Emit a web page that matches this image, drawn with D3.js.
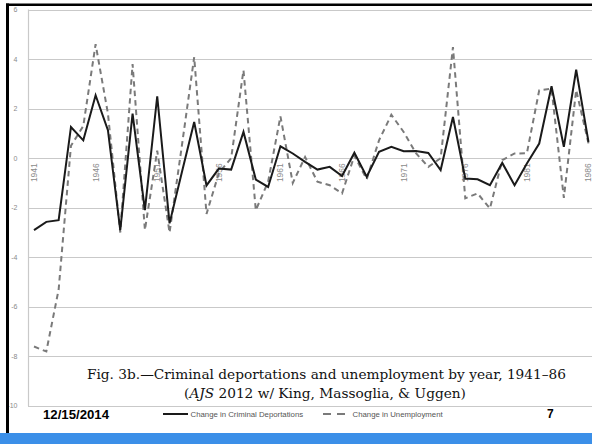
<!DOCTYPE html>
<html><head><meta charset="utf-8">
<script src="https://cdn.jsdelivr.net/npm/d3@7"></script>
<style>html,body{margin:0;padding:0;background:#fff;}svg{display:block;}</style>
</head><body>
<svg id="c" width="592" height="444"></svg>
<script>
const years = d3.range(1941, 1987);
const deportations = [-2.9, -2.57, -2.5, 1.26, 0.72, 2.54, 1.13, -2.9, 1.8, -2.1,
  2.5, -2.63, -0.57, 1.46, -1.1, -0.42, -0.46, 1.06, -0.86, -1.16,
  0.48, 0.19, -0.15, -0.46, -0.35, -0.72, 0.22, -0.75, 0.26, 0.46,
  0.28, 0.29, 0.21, -0.48, 1.66, -0.82, -0.85, -1.09, -0.19, -1.09,
  -0.21, 0.59, 2.9, 0.46, 3.57, 0.66];
const unemployment = [-7.6, -7.8, -5.3, 0.5, 1.3, 4.6, 1.8, -3.0, 3.8, -2.9,
  0.3, -3.0, 0.5, 4.08, -2.25, -0.6, 0.0, 3.55, -2.1, -0.95,
  1.69, -1.0, 0.05, -0.95, -1.09, -1.42, 0.1, -0.85, 0.72, 1.75,
  1.06, 0.2, -0.35, 0.0, 4.48, -1.62, -1.42, -2.03, -0.08, 0.19,
  0.2, 2.74, 2.8, -1.6, 2.75, 0.59];
const yTicks = [6, 4, 2, 0, -2, -4, -6, -8, -10];
const xTickYears = [1941, 1946, 1951, 1956, 1961, 1966, 1971, 1976, 1981, 1986];
const seriesNames = ["Change in Criminal Deportations", "Change in Unemployment"];
const captionLine1 = "Fig. 3b.\u2014Criminal deportations and unemployment by year, 1941\u201386";
const dateText = "12/15/2014";
const pageNum = "7";

const svg = d3.select("#c");
const x = d3.scaleLinear().domain([1941, 1986]).range([34, 588.5]);
const y = d3.scaleLinear().domain([-10, 6]).range([406, 9.5]);
const plotLeft = 28, plotRight = 600;

// gridlines
svg.append("g").selectAll("line").data(yTicks).join("line")
  .attr("x1", plotLeft).attr("x2", plotRight)
  .attr("y1", d => Math.round(y(d)) + 0.5).attr("y2", d => Math.round(y(d)) + 0.5)
  .attr("stroke", "#c9c9c9").attr("stroke-width", 1.2);
svg.append("line").attr("x1", plotLeft + 0.5).attr("x2", plotLeft + 0.5)
  .attr("y1", y(6)).attr("y2", y(-10)).attr("stroke", "#c9c9c9").attr("stroke-width", 1.2);

// y tick labels
svg.append("g").selectAll("text").data(yTicks).join("text")
  .attr("x", 17.5).attr("y", d => y(d)).attr("dy", "0.35em")
  .attr("text-anchor", "end").attr("font-family", "Liberation Sans, Arial, sans-serif")
  .attr("font-size", 7).attr("fill", "#8a8a8a").text(d => d);

// x tick labels
svg.append("g").selectAll("text").data(xTickYears).join("text")
  .attr("transform", d => `translate(${x(d)},${y(0) + 5}) rotate(-90)`)
  .attr("text-anchor", "end").attr("dy", "0.35em")
  .attr("font-family", "Liberation Sans, Arial, sans-serif")
  .attr("font-size", 8.5).attr("fill", "#8a8a8a").text(d => d);

const line = d3.line().x((d, i) => x(years[i])).y(d => y(d));
svg.append("path").datum(unemployment).attr("d", line)
  .attr("fill", "none").attr("stroke", "#7a7a7a").attr("stroke-width", 2)
  .attr("stroke-dasharray", "5.5,4");
svg.append("path").datum(deportations).attr("d", line)
  .attr("fill", "none").attr("stroke", "#1a1a1a").attr("stroke-width", 2)
  .attr("stroke-linejoin", "miter");

// caption
const cap = svg.append("g").attr("font-family", "DejaVu Serif, serif").attr("font-size", 13.7).attr("fill", "#111");
cap.append("text").attr("x", 326.5).attr("y", 379).attr("text-anchor", "middle").text(captionLine1);
const t2 = cap.append("text").attr("x", 325).attr("y", 398).attr("text-anchor", "middle");
t2.append("tspan").text("(");
t2.append("tspan").attr("font-style", "italic").text("AJS");
t2.append("tspan").text(" 2012 w/ King, Massoglia, & Uggen)");

// legend
const lg = svg.append("g").attr("font-family", "Liberation Sans, Arial, sans-serif").attr("font-size", 7.8).attr("fill", "#555");
lg.append("line").attr("x1", 163).attr("x2", 188).attr("y1", 414).attr("y2", 414).attr("stroke", "#1a1a1a").attr("stroke-width", 2);
lg.append("text").attr("x", 190.5).attr("y", 414).attr("dy", "0.35em").text(seriesNames[0]);
lg.append("line").attr("x1", 323).attr("x2", 347).attr("y1", 414).attr("y2", 414).attr("stroke", "#7a7a7a").attr("stroke-width", 2).attr("stroke-dasharray", "8,6");
lg.append("text").attr("x", 352.5).attr("y", 414).attr("dy", "0.35em").text(seriesNames[1]);

// slide footer
svg.append("text").attr("x", 43).attr("y", 419).attr("font-family", "Liberation Sans, Arial, sans-serif")
  .attr("font-weight", "bold").attr("font-size", 13.2).attr("fill", "#000").text(dateText);
svg.append("text").attr("x", 547).attr("y", 418).attr("font-family", "Liberation Sans, Arial, sans-serif")
  .attr("font-weight", "bold").attr("font-size", 12).attr("fill", "#000").text(pageNum);

// frame
svg.append("rect").attr("x", 6).attr("y", 3.5).attr("width", 590).attr("height", 2.5).attr("fill", "#000");
svg.append("rect").attr("x", 6).attr("y", 3.5).attr("width", 3).attr("height", 430).attr("fill", "#000");
svg.append("rect").attr("x", 0).attr("y", 433).attr("width", 592).attr("height", 11).attr("fill", "#3b8fe8");
</script>
</body></html>
